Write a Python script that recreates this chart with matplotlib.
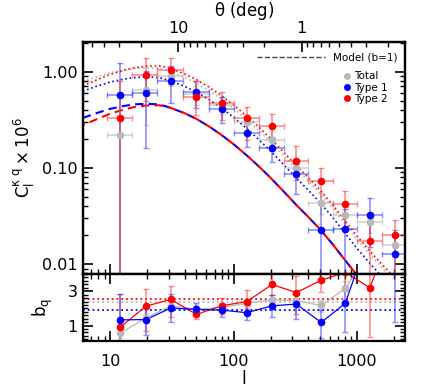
import numpy as np
import matplotlib
matplotlib.use('Agg')
import matplotlib.pyplot as plt
from matplotlib.ticker import FixedLocator, NullFormatter, FixedFormatter, MultipleLocator, LogLocator
from matplotlib.lines import Line2D

plt.rcParams['font.family'] = ['DejaVu Sans']
plt.rcParams['mathtext.fontset'] = 'dejavusans'
plt.rcParams['mathtext.default'] = 'regular'

# ---------------- data ----------------
ell = [12, 19.5, 31, 50, 80, 128, 205, 322, 513, 805, 1267, 2028]
ell_min = [9.5, 15, 24, 39, 63, 100, 160, 255, 400, 640, 1000, 1600]
ell_max = [15, 24, 39, 63, 100, 160, 255, 400, 640, 1000, 1600, 2560]

# Cross-power C_l x 1e6 (value, upper end, lower end of error bar)
c_total = [0.217, 0.646, 0.90, 0.58, 0.45, 0.30, 0.196, 0.100, 0.0433, 0.0327, 0.0275, 0.0159]
c_total_hi = [0.60, 0.90, 1.10, 0.70, 0.55, 0.36, 0.24, 0.12, 0.055, 0.040, 0.034, 0.020]
c_total_lo = [1e-4, 0.28, 0.70, 0.45, 0.36, 0.24, 0.16, 0.080, 0.033, 0.025, 0.021, 0.012]

c_type1 = [0.569, 0.60, 0.80, 0.61, 0.41, 0.23, 0.161, 0.087, 0.0227, 0.0234, 0.0325, 0.0127]
c_type1_hi = [1.24, 1.02, 1.15, 0.80, 0.55, 0.30, 0.21, 0.11, 0.042, 0.037, 0.049, 0.0228]
c_type1_lo = [1e-4, 0.16, 0.466, 0.42, 0.29, 0.166, 0.115, 0.053, 1e-4, 1e-4, 0.015, 1e-4]

c_type2 = [0.331, 0.92, 1.05, 0.54, 0.47, 0.333, 0.27, 0.119, 0.0737, 0.0423, 0.0176, 0.020]
c_type2_hi = [0.80, 1.39, 1.39, 0.79, 0.62, 0.43, 0.36, 0.17, 0.10, 0.058, 0.030, 0.029]
c_type2_lo = [1e-4, 0.50, 0.75, 0.355, 0.316, 0.196, 0.20, 0.075, 0.043, 0.024, 1e-4, 1e-4]

# Model curves (b = 1)
model_ell = [6, 8, 10, 13, 16, 20, 25, 30, 40, 50, 63, 80, 100, 130, 160, 200, 250,
             320, 400, 500, 630, 800, 1000, 1300, 1600, 2000, 2500]
model_type1 = [0.33, 0.375, 0.41, 0.44, 0.457, 0.463, 0.455, 0.425, 0.37, 0.322, 0.270, 0.219,
               0.176, 0.1322, 0.1036, 0.0784, 0.0582, 0.0416, 0.0312, 0.0231, 0.0163, 0.0110,
               0.00767, 0.00518, 0.00387, 0.00287, 0.00215]
model_type2 = [0.278, 0.325, 0.365, 0.405, 0.43, 0.445, 0.447, 0.425, 0.37, 0.322, 0.270, 0.219,
               0.176, 0.1322, 0.1036, 0.0784, 0.0582, 0.0416, 0.0312, 0.0231, 0.0163, 0.0110,
               0.00767, 0.00518, 0.00387, 0.00287, 0.00215]
model_total = [0.335, 0.378, 0.412, 0.44, 0.457, 0.463, 0.455, 0.425, 0.37, 0.322, 0.270, 0.219,
               0.176, 0.1322, 0.1036, 0.0784, 0.0582, 0.0416, 0.0312, 0.0231, 0.0163, 0.0110,
               0.00767, 0.00518, 0.00387, 0.00287, 0.00215]

# Best-fit biases
b_fit_total = 2.36
b_fit_type1 = 1.90
b_fit_type2 = 2.56

# Bias per bin (value, upper, lower)
b_total = [0.54, 1.45, 2.15, 1.95, 2.05, 2.30, 2.50, 2.45, 2.17, 3.17, 5.4, 5.5]
b_total_hi = [0.85, 1.75, 2.45, 2.2, 2.3, 2.55, 2.8, 2.8, 2.5, 3.6, 6.0, 6.5]
b_total_lo = [0.25, 1.15, 1.85, 1.7, 1.8, 2.05, 2.2, 2.1, 1.8, 2.7, 4.8, 4.5]

b_type1 = [1.33, 1.35, 2.02, 1.94, 1.90, 1.75, 2.15, 2.25, 1.18, 2.31, 6.4, 4.4]
b_type1_hi = [2.85, 2.05, 2.81, 2.3, 2.3, 2.13, 2.75, 2.56, 1.89, 3.14, 9.0, 9.0]
b_type1_lo = [-0.5, 0.45, 1.21, 1.55, 1.50, 1.31, 1.50, 1.40, 0.29, 0.60, 4.0, 1.18]

b_type2 = [0.89, 2.13, 2.52, 1.65, 2.15, 2.40, 3.39, 2.92, 3.64, 4.1, 3.2, 6.9]
b_type2_hi = [2.85, 3.14, 3.33, 1.95, 2.6, 3.08, 4.2, 3.9, 4.5, 5.0, 5.0, 9.0]
b_type2_lo = [0.5, 0.70, 1.5, 1.40, 1.70, 1.98, 2.8, 1.7, 2.95, 3.0, 0.35, 4.0]

# top axis: angular scale
theta_major = [10, 1]
theta_major_labels = ['10', '1']
theta_minor = [60, 50, 40, 30, 20, 9, 8, 7, 6, 5, 4, 3, 2, 0.9, 0.8, 0.7, 0.6, 0.5, 0.4, 0.3, 0.2]
theta_const = 355.0  # theta(deg) = const / l

# ---------------- style ----------------
BLUE = '#0000ff'
RED = '#ff0000'
GREY = '#b8b8b8'
BLUE_E = (0.2, 0.2, 1.0, 0.55)
RED_E = (1.0, 0.2, 0.2, 0.55)
GREY_E = (0.72, 0.72, 0.72, 0.6)

fig = plt.figure(figsize=(4.36, 3.92), dpi=100)
ax = fig.add_axes([0.190, 0.301, 0.739, 0.592])
ax2 = fig.add_axes([0.190, 0.130, 0.739, 0.171], sharex=ax)

ell_a = np.array(ell)
xerr = [ell_a - np.array(ell_min), np.array(ell_max) - ell_a]

def yerr_of(v, hi, lo):
    v = np.array(v); hi = np.array(hi); lo = np.array(lo)
    return [v - lo, hi - v]

# model lines
ax.plot(model_ell, model_type1, color=BLUE, ls=(0, (4, 2.5)), lw=1.5, zorder=2)
ax.plot(model_ell, model_type2, color=RED, ls=(3, (4, 2.5)), lw=1.5, zorder=2)
ax.plot(model_ell, b_fit_total * np.array(model_total), color=GREY, ls=':', lw=1.2, zorder=1)
ax.plot(model_ell, b_fit_type1 * np.array(model_type1), color=BLUE, ls=':', lw=1.2, zorder=1)
ax.plot(model_ell, b_fit_type2 * np.array(model_type2), color=RED, ls=':', lw=1.2, zorder=1)

for v, hi, lo, col, ecol in [(c_total, c_total_hi, c_total_lo, GREY, GREY_E),
                              (c_type1, c_type1_hi, c_type1_lo, BLUE, BLUE_E),
                              (c_type2, c_type2_hi, c_type2_lo, RED, RED_E)]:
    ax.errorbar(ell, v, yerr=yerr_of(v, hi, lo), xerr=xerr, fmt='none', ecolor=ecol,
                elinewidth=1.2, capsize=2.5, capthick=1.0, zorder=3)
    ax.plot(ell, v, 'o', color=col, ms=5.5, mec='none', zorder=4)

ax.set_xscale('log')
ax.set_yscale('log')
ax.set_xlim(6.0, 2450)
ax.set_ylim(0.0079, 2.03)
ax.yaxis.set_major_locator(FixedLocator([0.01, 0.1, 1.0]))
ax.yaxis.set_major_formatter(FixedFormatter(['0.01', '0.10', '1.00']))
ax.yaxis.set_minor_locator(LogLocator(base=10, subs=np.arange(2, 10)))
ax.yaxis.set_minor_formatter(NullFormatter())
ax.tick_params(axis='x', labelbottom=False)
ax.set_ylabel(r'$\mathrm{C_l^{\kappa\ q}\times 10^6}$', fontsize=12, labelpad=4)

# top theta axis
axt = ax.twiny()
axt.set_xscale('log')
axt.set_xlim(ax.get_xlim())
axt.xaxis.set_major_locator(FixedLocator([theta_const / t for t in theta_major]))
axt.xaxis.set_major_formatter(FixedFormatter(theta_major_labels))
axt.xaxis.set_minor_locator(FixedLocator([theta_const / t for t in theta_minor]))
axt.xaxis.set_minor_formatter(NullFormatter())
axt.tick_params(which='major', direction='in', length=7, width=1.2, labelsize=11.5, pad=4)
axt.tick_params(which='minor', direction='in', length=3.5, width=1.0)
axt.set_xlabel(r'$\theta$ (deg)', fontsize=12, labelpad=4)
for s in axt.spines.values():
    s.set_linewidth(1.6)

# legends
leg1 = ax.legend(handles=[Line2D([], [], color='#444444', ls='--', lw=1.0)],
                 labels=['Model (b=1)'], loc='upper right', frameon=False, fontsize=7.5,
                 handlelength=6.5, handletextpad=0.8, borderaxespad=0.3,
                 bbox_to_anchor=(1.0, 0.985))
ax.add_artist(leg1)
h = [Line2D([], [], marker='o', ls='none', color=c, ms=5, mec='none') for c in (GREY, BLUE, RED)]
ax.legend(handles=h, labels=['Total', 'Type 1', 'Type 2'], loc='upper right', frameon=False,
          fontsize=7.5, handlelength=0.8, handletextpad=0.3, labelspacing=0.12,
          borderaxespad=0.3, bbox_to_anchor=(0.97, 0.905))

# bottom panel
for b_fit, col in [(b_fit_type2, RED), (b_fit_total, GREY), (b_fit_type1, BLUE)]:
    ax2.axhline(b_fit, color=col, ls=':', lw=1.3, zorder=1)
for v, hi, lo, col, ecol in [(b_total, b_total_hi, b_total_lo, GREY, GREY_E),
                              (b_type2, b_type2_hi, b_type2_lo, RED, RED_E),
                              (b_type1, b_type1_hi, b_type1_lo, BLUE, BLUE_E)]:
    ax2.errorbar(ell, v, yerr=yerr_of(v, hi, lo), fmt='none', ecolor=ecol,
                 elinewidth=1.2, capsize=2.5, capthick=1.0, zorder=2)
    ax2.plot(ell, v, '-', color=col, lw=0.9, zorder=3)
    ax2.plot(ell, v, 'o', color=col, ms=5.5, mec='none', zorder=4)

ax2.set_ylim(0.1, 4.0)
ax2.yaxis.set_major_locator(FixedLocator([1, 3]))
ax2.yaxis.set_major_formatter(FixedFormatter(['1', '3']))
ax2.yaxis.set_minor_locator(MultipleLocator(0.2))
ax2.xaxis.set_major_locator(FixedLocator([10, 100, 1000]))
ax2.xaxis.set_major_formatter(FixedFormatter(['10', '100', '1000']))
ax2.xaxis.set_minor_locator(LogLocator(base=10, subs=np.arange(2, 10)))
ax2.xaxis.set_minor_formatter(NullFormatter())
ax2.set_xlabel('l', fontsize=12, labelpad=1)
ax2.set_ylabel(r'$\mathrm{b_q}$', fontsize=12, labelpad=9)

for a in (ax, ax2):
    a.tick_params(which='major', direction='in', length=7, width=1.2, labelsize=11.5,
                  right=True, top=(a is ax2), pad=3.5)
    a.tick_params(which='minor', direction='in', length=3.5, width=1.0, right=True,
                  top=(a is ax2))
    for s in a.spines.values():
        s.set_linewidth(1.6)
ax.tick_params(which='both', top=False)
ax2.tick_params(axis='x', which='major', pad=9)

fig.savefig('out.png', dpi=100)
